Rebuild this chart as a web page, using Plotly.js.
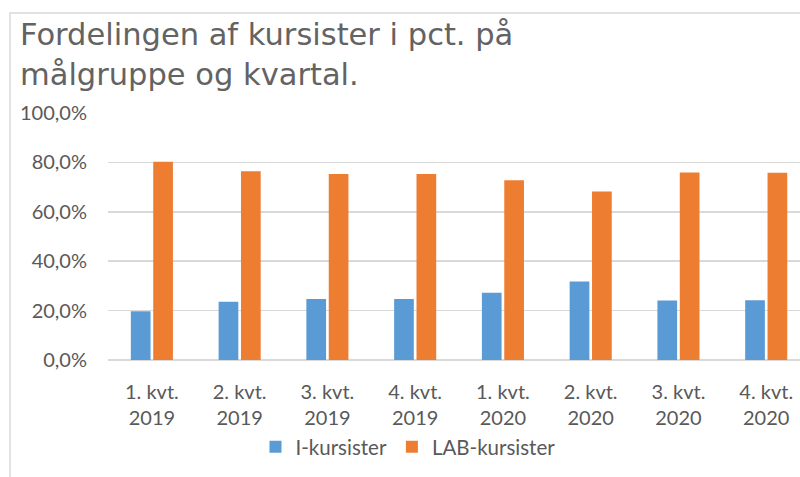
<!DOCTYPE html>
<html>
<head>
<meta charset="utf-8">
<script src="https://cdn.plot.ly/plotly-3.0.1.min.js"></script>
<style>
html,body{margin:0;padding:0;overflow:hidden;background:#fff;}
#chart{width:800px;height:477px;}
</style>
</head>
<body>
<div id="chart"></div>
<script>
const categories = ["1. kvt.<br>2019","2. kvt.<br>2019","3. kvt.<br>2019","4. kvt.<br>2019","1. kvt.<br>2020","2. kvt.<br>2020","3. kvt.<br>2020","4. kvt.<br>2020"];
const iKursister = [0.197, 0.236, 0.247, 0.247, 0.272, 0.318, 0.241, 0.242];
const labKursister = [0.803, 0.764, 0.753, 0.753, 0.728, 0.682, 0.759, 0.758];
const seriesNames = ["I-kursister", "LAB-kursister"];
const yTicks = [0, 0.2, 0.4, 0.6, 0.8, 1.0];
const titleText = "Fordelingen af kursister i pct. på<br>målgruppe og kvartal.";

const FONT = "Lato, 'Open Sans', sans-serif";
const TITLEFONT = "'DejaVu Sans', sans-serif";
const GREY = "#595959";

const traces = [
  {type:"bar", name:seriesNames[0], x:categories, y:iKursister, marker:{color:"#5b9bd5"}, hoverinfo:"skip"},
  {type:"bar", name:seriesNames[1], x:categories, y:labKursister, marker:{color:"#ed7d31"}, hoverinfo:"skip"}
];

const layout = {
  width:800, height:477,
  margin:{l:108, r:0, t:113, b:117},
  paper_bgcolor:"#fff", plot_bgcolor:"#fff",
  separators:",.",
  font:{family:FONT, color:GREY, size:20},
  barmode:"group",
  bargap:0.49,
  bargroupgap:0.12,
  xaxis:{
    type:"category",
    range:[-0.5, 7.385],
    showgrid:false, zeroline:false,
    showline:false,
    ticks:"",
    tickfont:{family:FONT, size:20, color:GREY},
    ticklabelstandoff:18,
    fixedrange:true
  },
  yaxis:{
    range:[0, 1],
    tickvals:yTicks,
    tickformat:".1%",
    showgrid:true, gridcolor:"#d9d9d9", gridwidth:1.5,
    zeroline:true, zerolinecolor:"#d9d9d9", zerolinewidth:1.5,
    showline:false, ticks:"",
    tickfont:{family:FONT, size:20, color:GREY},
    ticklabelstandoff:20,
    fixedrange:true
  },
  showlegend:true,
  legend:{
    orientation:"h",
    xref:"container", yref:"container",
    x:408/800, xanchor:"center",
    y:1-447/477, yanchor:"middle",
    font:{family:FONT, size:20.5, color:GREY},
    itemwidth:30
  },
  annotations:[
    {text:titleText, xref:"paper", yref:"paper",
     x:(18-108)/692, xanchor:"left", align:"left",
     y:(360-15)/247, yanchor:"top", showarrow:false,
     font:{family:TITLEFONT, size:30.5, color:"#636363", weight:400}}
  ],
  shapes:[
    {type:"rect", xref:"paper", yref:"paper",
     x0:(10-108)/692, x1:1.2, y0:-1, y1:(360-13)/247,
     line:{color:"#d9d9d9", width:1.5}, fillcolor:"rgba(0,0,0,0)", layer:"below"}
  ]
};

Plotly.newPlot("chart", traces, layout, {displayModeBar:false, staticPlot:true});
</script>
</body>
</html>
